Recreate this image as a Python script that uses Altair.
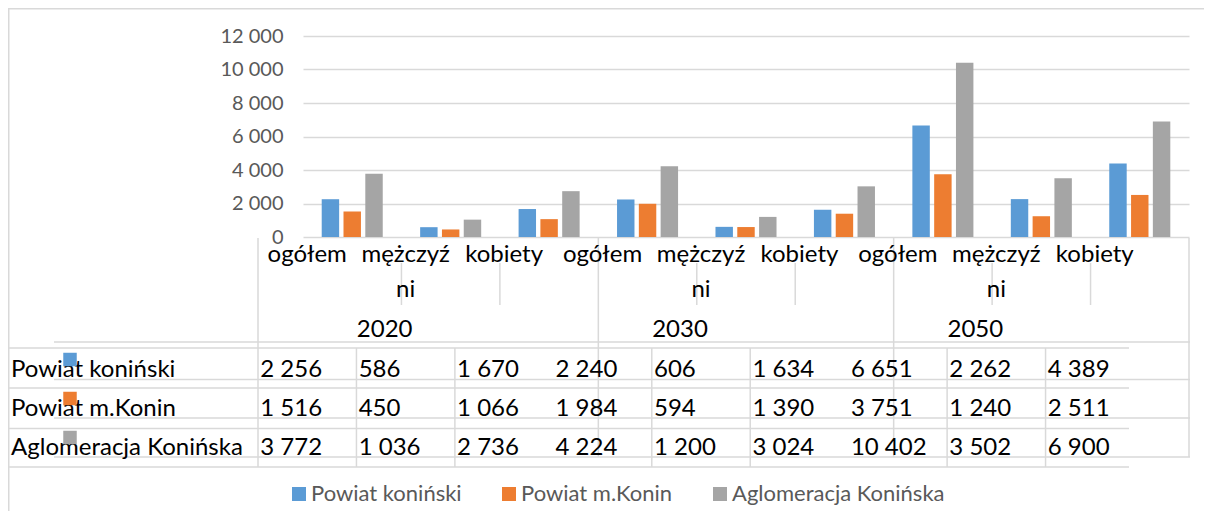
import altair as alt
import pandas as pd

# ---------------- data ----------------
years = ["2020", "2030", "2050"]
groups = ["ogółem", "mężczyźni", "kobiety"]
series = ["Powiat koniński", "Powiat m.Konin", "Aglomeracja Konińska"]
powiat_koninski = [2256, 586, 1670, 2240, 606, 1634, 6651, 2262, 4389]
powiat_m_konin = [1516, 450, 1066, 1984, 594, 1390, 3751, 1240, 2511]
aglomeracja = [3772, 1036, 2736, 4224, 1200, 3024, 10402, 3502, 6900]
y_ticks = [0, 2000, 4000, 6000, 8000, 10000, 12000]
colors = ["#5b9bd5", "#ed7d31", "#a5a5a5"]
# category labels wrapped as in the original data table
label_line1 = {"ogółem": "ogółem", "mężczyźni": "mężczyź", "kobiety": "kobiety"}
label_line2 = {"ogółem": "", "mężczyźni": "ni", "kobiety": ""}

# ---------------- tables ----------------
keys = [f"{y} {g}" for y in years for g in groups]
values = {series[0]: powiat_koninski, series[1]: powiat_m_konin, series[2]: aglomeracja}

bars_df = pd.DataFrame(
    [{"key": k, "series": s, "value": values[s][i]} for s in series for i, k in enumerate(keys)]
)
bars_df["text"] = bars_df["value"].map(lambda v: f"{v:,}".replace(",", " "))

cats_df = pd.DataFrame(
    [{"key": f"{y} {g}", "l1": label_line1[g], "l2": label_line2[g]} for y in years for g in groups]
)
years_df = pd.DataFrame([{"key": f"{y} {groups[1]}", "year": y} for y in years])
rows_df = pd.DataFrame({"series": series})

# ---------------- layout (pixels) ----------------
W, H = 886, 201
PAD_L, PAD_T, PAD_R = 295, 28, 15
TOTAL_H = 503
PAD_B = TOTAL_H - PAD_T - H
STEP = W / 9
GRID = "#d9d9d9"
FONT = "Lato"

segs = []
def hseg(y, x1, x2):
    segs.append({"x": x1, "x2": x2, "y": y, "y2": y})
def vseg(x, y1, y2):
    segs.append({"x": x, "x2": x, "y": y1, "y2": y2})

# table grid aligned with the plot (header + rows)
for yy in [306, 343.5, 382, 421]:
    hseg(yy, -249, 887)
# shifted value grid
for yy in [312, 352, 392.5, 431]:
    hseg(yy, -295, 826)
vseg(-45, 202, 431)
for k in [3, 6, 9]:
    vseg(k * STEP, 202, 421)
for k in [1, 2, 4, 5, 7, 8]:
    vseg(k * STEP, 227, 269)
    vseg(k * STEP - 45, 312, 431)
# outer border (left and top)
vseg(-294.25, -27.25, TOTAL_H - PAD_T)
hseg(-27.25, -PAD_L, W + PAD_R)
segs_df = pd.DataFrame(segs)

# ---------------- encodings ----------------
x_enc = alt.X(
    "key:N",
    scale=alt.Scale(domain=keys, paddingInner=0.38, paddingOuter=0.19),
    axis=None,
)
color_scale = alt.Scale(domain=series, range=colors)
row_y = alt.Y(
    "series:N",
    scale=alt.Scale(type="point", domain=series, range=[341, 419], padding=0),
    axis=None,
)

bars = alt.Chart(bars_df).mark_bar().encode(
    x=x_enc,
    xOffset=alt.XOffset(
        "series:N", scale=alt.Scale(domain=series, paddingInner=0.2, paddingOuter=0)
    ),
    y=alt.Y(
        "value:Q",
        scale=alt.Scale(domain=[0, 12000], nice=False),
        axis=alt.Axis(
            values=y_ticks,
            title=None,
            domain=False,
            ticks=False,
            tickSize=0,
            labelPadding=20,
            labelFont=FONT,
            labelFontSize=20,
            labelColor="#595959",
            gridColor=GRID,
            gridWidth=1.5,
            labelExpr="replace(format(datum.value, ','), ',', ' ')",
        ),
    ),
    color=alt.Color(
        "series:N",
        scale=color_scale,
        legend=alt.Legend(
            orient="none",
            legendX=-15,
            legendY=447,
            direction="horizontal",
            title=None,
            symbolType="square",
            symbolSize=196,
            symbolStrokeWidth=0,
            labelFont=FONT,
            labelFontSize=22,
            labelColor="#595959",
            labelOffset=1,
            columnPadding=36,
            labelLimit=500,
            padding=0,
        ),
    ),
)

lines = alt.Chart(segs_df).mark_rule(color=GRID, strokeWidth=1.5).encode(
    x=alt.X("x:Q", scale=None),
    x2="x2:Q",
    y=alt.Y("y:Q", scale=None),
    y2="y2:Q",
)

txt = dict(font=FONT, fontSize=24, color="black", baseline="alphabetic")

cat1 = alt.Chart(cats_df).mark_text(align="center", dx=-45, **txt).encode(
    x=alt.X("key:N", axis=None), y=alt.value(226), text="l1:N"
)
cat2 = alt.Chart(cats_df).mark_text(align="center", dx=-45, **txt).encode(
    x=alt.X("key:N", axis=None), y=alt.value(261), text="l2:N"
)
yrs = alt.Chart(years_df).mark_text(align="center", dx=-66, **txt).encode(
    x=alt.X("key:N", axis=None), y=alt.value(301), text="year:N"
)
vals = alt.Chart(bars_df).mark_text(align="left", dx=-92, **txt).encode(
    x=alt.X("key:N", axis=None), y=row_y, text="text:N"
)
row_labels = alt.Chart(rows_df).mark_text(align="left", **txt).encode(
    x=alt.value(-292), y=row_y, text="series:N"
)
row_keys = alt.Chart(rows_df).mark_square(size=182, opacity=1, yOffset=-17.5).encode(
    x=alt.value(-233),
    y=row_y,
    color=alt.Color("series:N", scale=color_scale, legend=None),
)

chart = (
    alt.layer(bars, lines, cat1, cat2, yrs, vals, row_labels, row_keys)
    .resolve_scale(y="independent")
    .properties(
        width=W,
        height=H,
        padding={"left": PAD_L, "top": PAD_T, "right": PAD_R, "bottom": PAD_B},
        autosize=alt.AutoSizeParams(type="none"),
        background="white",
    )
    .configure_view(stroke=None)
)

chart.save("out.html", embed_options={"renderer": "svg", "actions": False})
